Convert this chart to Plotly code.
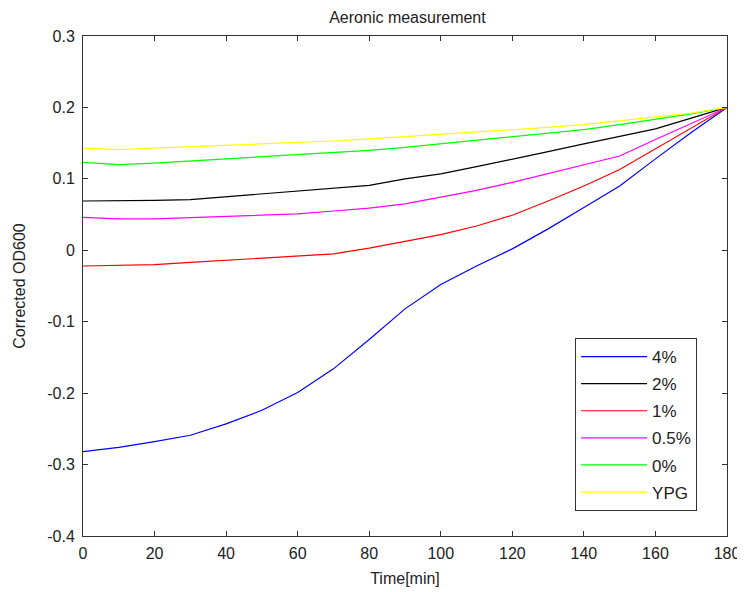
import plotly.graph_objects as go

time_min = [0, 10, 20, 30, 40, 50, 60, 70, 80, 90, 100, 110, 120, 130, 140, 150, 160, 170, 180]

od_4 = [-0.282, -0.276, -0.268, -0.259, -0.243, -0.224, -0.199, -0.166, -0.125, -0.082,
        -0.048, -0.022, 0.002, 0.030, 0.060, 0.090, 0.128, 0.165, 0.200]
od_2 = [0.069, 0.069, 0.070, 0.071, 0.075, 0.079, 0.082, 0.086, 0.091, 0.100,
        0.107, 0.117, 0.127, 0.138, 0.149, 0.159, 0.170, 0.185, 0.200]
od_1 = [-0.022, -0.021, -0.020, -0.017, -0.014, -0.012, -0.009, -0.005, 0.003, 0.012,
        0.022, 0.034, 0.049, 0.069, 0.090, 0.113, 0.142, 0.170, 0.200]
od_05 = [0.046, 0.044, 0.044, 0.046, 0.048, 0.049, 0.051, 0.055, 0.059, 0.065,
         0.074, 0.084, 0.095, 0.107, 0.119, 0.132, 0.155, 0.178, 0.200]
od_0 = [0.123, 0.120, 0.122, 0.125, 0.128, 0.130, 0.134, 0.137, 0.140, 0.144,
        0.149, 0.153, 0.158, 0.163, 0.169, 0.176, 0.183, 0.191, 0.200]
od_ypg = [0.143, 0.141, 0.143, 0.145, 0.146, 0.148, 0.150, 0.153, 0.156, 0.159,
          0.162, 0.165, 0.168, 0.172, 0.176, 0.181, 0.186, 0.192, 0.200]

series_names = ["4%", "2%", "1%", "0.5%", "0%", "YPG"]
series_values = [od_4, od_2, od_1, od_05, od_0, od_ypg]
series_colors = ["#0000FF", "#000000", "#FF0000", "#FF00FF", "#00FF00", "#FFFF00"]

x_ticks = [0, 20, 40, 60, 80, 100, 120, 140, 160, 180]
y_ticks = [0.3, 0.2, 0.1, 0, -0.1, -0.2, -0.3, -0.4]
y_tick_labels = ["0.3", "0.2", "0.1", "0", "-0.1", "-0.2", "-0.3", "-0.4"]

fig = go.Figure()
for name, vals, col in zip(series_names, series_values, series_colors):
    fig.add_trace(go.Scatter(x=time_min, y=vals, mode="lines", name=name, legendgroup=name,
                             line=dict(color=col, width=1.2)))

font_family = "Liberation Sans, Arial, sans-serif"
axis_common = dict(showline=True, linecolor="#333333", linewidth=1, mirror="ticks",
                   ticks="inside", ticklen=5, tickcolor="#333333", showgrid=False,
                   zeroline=False, automargin=False,
                   tickfont=dict(family=font_family, size=16, color="#222222"))

# page body has an 8px margin, so the figure is 8px smaller and margins shifted
fig.update_layout(
    width=737, height=584,
    margin=dict(l=75, r=18, t=28, b=56, autoexpand=False),
    paper_bgcolor="white", plot_bgcolor="white",
    title=dict(text="Aeronic measurement", x=0.542, xanchor="center",
               y=0.994, yanchor="top", yref="container",
               automargin=False,
               font=dict(family=font_family, size=16, color="#222222")),
    xaxis=dict(range=[0, 180], tickvals=x_ticks, ticktext=[str(v) for v in x_ticks],
               ticklabelstandoff=3,
               title=dict(text="Time[min]", standoff=11,
                          font=dict(family=font_family, size=16, color="#222222")),
               **axis_common),
    yaxis=dict(range=[-0.4, 0.3], tickvals=y_ticks, ticktext=y_tick_labels,
               ticklabelstandoff=4,
               title=dict(text="Corrected OD600", standoff=17,
                          font=dict(family=font_family, size=16, color="#222222")),
               **axis_common),
    legend=dict(x=0.9535, xanchor="right", y=0.05, yanchor="bottom",
                bgcolor="white", bordercolor="#333333", borderwidth=1,
                font=dict(family=font_family, size=17, color="#222222"),
                itemwidth=66, tracegroupgap=2),
    showlegend=True,
)

fig.write_html("out.html")
